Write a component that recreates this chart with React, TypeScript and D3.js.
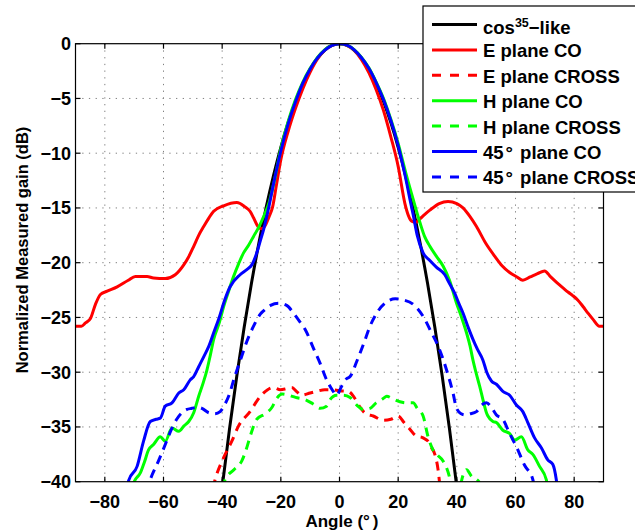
import React from "react";
import * as d3 from "d3";

type Pt = [number, number];

const xTicks = [-80, -60, -40, -20, 0, 20, 40, 60, 80];
const yTicks = [0, -5, -10, -15, -20, -25, -30, -35, -40];

const cosLike: Pt[] = [
  [-40, -40.51], [-37.5, -35.19], [-35, -30.32], [-32.5, -25.89], [-30, -21.86], [-27.5, -18.23],
  [-25, -14.95], [-22.5, -12.04], [-20, -9.46], [-17.5, -7.2], [-15, -5.27], [-12.5, -3.65],
  [-10, -2.33], [-7.5, -1.31], [-5, -0.58], [-2.5, -0.14], [0, 0], [2.5, -0.14], [5, -0.58],
  [7.5, -1.31], [10, -2.33], [12.5, -3.65], [15, -5.27], [17.5, -7.2], [20, -9.46], [22.5, -12.04],
  [25, -14.95], [27.5, -18.23], [30, -21.86], [32.5, -25.89], [35, -30.32], [37.5, -35.19], [40, -40.51],
];

const ePlaneCo: Pt[] = [
  [-90, -25.8], [-88, -25.8], [-86.6, -25.5], [-84.9, -25.1], [-83.2, -23.8], [-81.5, -22.9],
  [-79.2, -22.6], [-75.8, -22.2], [-72, -21.6], [-69.6, -21.25], [-65.6, -21.25], [-63.4, -21.4],
  [-59.4, -21.45], [-56, -21.1], [-53.1, -20.2], [-51.5, -19.5], [-49.7, -18.5], [-48, -17.5],
  [-46.3, -16.7], [-44.5, -15.9], [-42.9, -15.3], [-39.5, -14.8], [-35, -14.5], [-32.2, -14.9],
  [-30.5, -15.3], [-29.3, -15.9], [-27.8, -16.7], [-26.5, -16.9], [-25.3, -16.6], [-24, -15.8],
  [-22.8, -14.9], [-21.5, -12.9], [-20, -10.6], [-17.5, -8.0], [-15, -5.9], [-12.5, -4.1],
  [-10, -2.6], [-7.5, -1.4], [-5, -0.6], [-2.5, -0.15], [0, 0], [2.5, -0.15], [5, -0.62],
  [7.5, -1.45], [10, -2.65], [12.5, -4.2], [15, -6.1], [17.5, -8.5], [20, -11.2], [22.3, -14.6],
  [23.5, -15.7], [24.6, -16.2], [26, -16.3], [27.4, -16.0], [29, -15.6], [30.8, -15.2], [34, -14.6],
  [37, -14.4], [40, -14.6], [42.1, -15.0], [44.5, -15.8], [46.7, -16.7], [49.8, -18.2], [52.9, -19.4],
  [55.5, -20.3], [58, -20.9], [60.5, -21.3], [62.5, -21.6], [65, -21.3], [67.5, -21.0], [69.9, -20.75],
  [72, -21.3], [74, -21.8], [76.2, -22.3], [78, -22.7], [79.5, -23.0], [81.2, -23.4], [83, -24.0],
  [84.7, -24.6], [86.5, -25.2], [88.6, -25.8], [90, -25.8],
];

const ePlaneCross: Pt[] = [
  [-43.2, -40.6], [-42.4, -39.8], [-39.5, -37.8], [-36.7, -36.3], [-34.4, -34.9], [-30.5, -33.6],
  [-27, -32.2], [-24.5, -31.6], [-22.5, -31.4], [-20.2, -31.6], [-18, -31.5], [-16.3, -31.4],
  [-14.5, -31.8], [-12.9, -32.1], [-10, -31.9], [-7.8, -31.75], [-5, -31.6], [-2.7, -31.6],
  [0, -31.7], [3, -31.75], [5, -32.3], [7, -33.2], [9, -33.8], [11.5, -34.0], [14.9, -34.4],
  [17.5, -34.3], [20, -34.0], [22, -34.6], [24, -35.2], [26, -35.8], [28.5, -36.0], [30.5, -36.4],
  [31.4, -36.9], [32.5, -37.5], [33.6, -38.9], [34.3, -40.6],
];

const hPlaneCo: Pt[] = [
  [-71, -40.6], [-69.6, -39.8], [-67.9, -39.2], [-66.5, -38.2], [-65.1, -37.1], [-63.4, -36.6],
  [-61.1, -35.9], [-59.4, -36.3], [-57.1, -35.1], [-54.8, -35.4], [-53, -34.9], [-51.4, -34.5],
  [-49.7, -33.7], [-48, -32.2], [-46.5, -31.0], [-45.2, -29.8], [-44, -28.4], [-42.9, -27.0],
  [-41, -25.5], [-39.5, -24.0], [-37.8, -22.6], [-36.1, -21.25], [-34.4, -20.1], [-32.7, -19.1],
  [-31, -18.4], [-29.3, -17.6], [-27.6, -16.8], [-25.9, -15.8], [-24, -14.5], [-22.5, -12.9],
  [-20, -9.6], [-17.5, -7.1], [-15, -5.1], [-12.5, -3.5], [-10, -2.25], [-7.5, -1.25], [-5, -0.55],
  [-2.5, -0.14], [0, 0], [2.5, -0.14], [5, -0.55], [7.5, -1.25], [10, -2.2], [12.5, -3.5],
  [15, -5.0], [17.5, -6.9], [20, -9.1], [22.5, -11.7], [25.1, -14.2], [27.5, -16.4], [29, -17.6],
  [30.8, -18.5], [33, -19.4], [35.3, -20.3], [37.5, -21.6], [39.9, -23.7], [41.5, -24.9],
  [43.3, -26.4], [44.5, -27.6], [45.5, -28.9], [46.5, -30.0], [47.8, -31.3], [48.9, -32.5],
  [50.1, -33.7], [50.6, -34.0], [52.3, -34.5], [53.5, -34.6], [55.7, -35.3], [58, -35.6],
  [59.7, -36.2], [62, -35.9], [64.2, -37.1], [65.9, -37.5], [68.2, -38.6], [70.5, -39.8], [71, -40.6],
];

const hPlaneCross: Pt[] = [
  [-39.5, -40.6], [-39, -39.8], [-36, -38.9], [-33.3, -38.1], [-31.5, -36.8], [-30.5, -35.9],
  [-28.2, -34.3], [-25.3, -33.8], [-23, -33.2], [-21.4, -32.4], [-19.5, -32.0], [-17.4, -32.1],
  [-15, -32.3], [-11.7, -32.5], [-9, -32.9], [-6.6, -33.3], [-4.4, -33.1], [-3.2, -32.5],
  [-1, -32.1], [1.3, -32.1], [3.6, -32.3], [5.9, -33.0], [8.1, -33.4], [10.4, -33.3], [12.5, -32.8],
  [14.9, -32.4], [16.1, -32.2], [18, -32.4], [20.6, -32.7], [23, -32.8], [25.1, -32.8], [26.5, -33.3],
  [28.5, -34.0], [30.2, -35.9], [31.9, -37.1], [33.5, -37.6], [35.3, -38.1], [37.6, -39.7],
  [38.3, -40.6], [39.6, -41.5], [41, -40.6], [42, -39.5], [43.3, -38.9], [45, -39.5], [47.5, -40.0],
  [48.2, -40.6],
];

const d45Co: Pt[] = [
  [-72.2, -40.6], [-71.9, -39.9], [-69, -38.6], [-66.8, -36.3], [-64.5, -34.5], [-62.5, -34.3],
  [-61.1, -34.2], [-59.4, -33.1], [-57.1, -32.8], [-54.8, -31.9], [-53.1, -31.6], [-50.9, -30.7],
  [-49.7, -30.4], [-48, -29.5], [-46.3, -28.6], [-44.5, -27.6], [-42.9, -26.4], [-41, -25.0],
  [-39.5, -23.7], [-37.3, -22.2], [-33.9, -21.1], [-31.5, -20.6], [-29.9, -20.2], [-28.2, -19.1],
  [-27, -18.0], [-25.9, -17.0], [-24, -14.8], [-22.5, -12.8], [-20, -9.8], [-17.5, -7.3],
  [-15, -5.3], [-12.5, -3.6], [-10, -2.3], [-7.5, -1.3], [-5, -0.58], [-2.5, -0.15], [0, 0],
  [2.5, -0.14], [5, -0.56], [7.5, -1.28], [10, -2.25], [12.5, -3.55], [15, -5.1], [17.5, -7.0],
  [20, -9.3], [22.5, -12.2], [24, -14.2], [25.1, -15.6], [26.5, -17.5], [28.5, -19.1], [30.8, -19.8],
  [33, -20.4], [35.9, -21.1], [37.5, -21.9], [39.3, -22.8], [40.5, -23.6], [42.1, -24.6], [44, -26.0],
  [45.5, -27.0], [47, -27.9], [48.9, -28.9], [50.2, -30.0], [51.8, -30.8], [53.5, -31.1],
  [55.7, -31.75], [58, -32.1], [60.3, -33.0], [62.5, -33.6], [64.2, -34.6], [66.5, -36.0],
  [68.8, -36.9], [71, -38.0], [72.7, -38.4], [73.9, -39.8], [74.3, -40.6],
];

const d45Cross: Pt[] = [
  [-66, -41], [-64.5, -39.8], [-61.7, -38.1], [-59.4, -36.6], [-57.1, -35.1], [-55.5, -34.3],
  [-53.7, -33.7], [-52, -33.4], [-50.3, -33.3], [-48.6, -33.2], [-46.9, -33.3], [-44.6, -33.7],
  [-42.5, -33.8], [-40.7, -33.6], [-39.2, -33.0], [-37.8, -32.2], [-35.6, -30.3], [-33.9, -29.0],
  [-31.6, -27.2], [-29.3, -25.8], [-27, -24.7], [-25.9, -24.4], [-23.5, -23.9], [-20.8, -23.7],
  [-18, -23.9], [-15.7, -24.6], [-13.5, -25.4], [-11.7, -26.1], [-8.9, -27.8], [-6.6, -29.2],
  [-4.4, -30.7], [-2.5, -31.6], [-1, -32.1], [0.7, -31.3], [2.4, -30.6], [3.6, -30.4], [5.9, -29.0],
  [8.1, -27.5], [10.4, -25.8], [12.7, -24.6], [16.6, -23.5], [19, -23.3], [21.7, -23.4], [25.1, -23.8],
  [28.5, -24.9], [31.4, -26.4], [33.6, -27.6], [36.5, -29.8], [38.7, -31.9], [39.9, -33.3],
  [41.5, -33.8], [42.7, -33.9], [44.5, -33.8], [46.7, -33.6], [48.5, -33.0], [50.1, -32.8],
  [52, -33.3], [53.5, -33.9], [55.7, -34.3], [58, -35.6], [60.3, -36.8], [63.1, -38.5],
  [65.9, -39.8], [66.5, -40.6],
];

// legend labels: [text before the degree sign / superscript, special part, rest]
const legendLabels = [
  "cos35-like",
  "E plane CO",
  "E plane CROSS",
  "H plane CO",
  "H plane CROSS",
  "45° plane CO",
  "45° plane CROSS",
];

const seriesList = [
  { data: cosLike, color: "#000000", dashed: false },
  { data: ePlaneCo, color: "#ff0000", dashed: false },
  { data: ePlaneCross, color: "#ff0000", dashed: true },
  { data: hPlaneCo, color: "#00ff00", dashed: false },
  { data: hPlaneCross, color: "#00ff00", dashed: true },
  { data: d45Co, color: "#0000ff", dashed: false },
  { data: d45Cross, color: "#0000ff", dashed: true },
];

const W = 635;
const H = 532;
const L = 75.5;
const R = 603.5;
const T = 43.7;
const B = 481.7;
const FONT = "'Liberation Sans', Arial, Helvetica, sans-serif";

function LegendText({ label, x, y }: { label: string; x: number; y: number }) {
  if (label.startsWith("cos35")) {
    return (
      <text x={x} y={y + 9} fontSize={18.5} fill="#000">
        cos
        <tspan dy={-7} fontSize={12.5}>
          35
        </tspan>
        <tspan dy={7}>{"\u2212like"}</tspan>
      </text>
    );
  }
  if (label.includes("°")) {
    const [pre, post] = label.split("°");
    return (
      <text x={x} y={y + 7.5} fontSize={18.5} fill="#000">
        {pre}
        <tspan dx={2}>°</tspan>
        <tspan dx={2}>{post}</tspan>
      </text>
    );
  }
  return (
    <text x={x} y={y + 7.5} fontSize={18.5} fill="#000">
      {label}
    </text>
  );
}

export default function App() {
  const x = d3.scaleLinear().domain([-90, 90]).range([L, R]);
  const y = d3.scaleLinear().domain([-40, 0]).range([B, T]);
  const line = d3
    .line<Pt>()
    .x((d) => x(d[0]))
    .y((d) => y(d[1]))
    .curve(d3.curveMonotoneX);

  const tickLen = 5;
  const legX = 423;
  const legY = 6;
  const rowY = (i: number) => 24.5 + i * 25.4;

  return (
    <svg
      width={W}
      height={H}
      style={{ position: "absolute", left: 0, top: 0, background: "#fff" }}
      fontFamily={FONT}
      fontWeight="bold"
    >
      <rect x={0} y={0} width={W} height={H} fill="#fff" />
      <defs>
        <clipPath id="plotclip">
          <rect x={L} y={T} width={R - L} height={B - T} />
        </clipPath>
      </defs>

      {/* grid */}
      <g stroke="#808080" strokeWidth={1} strokeDasharray="1.3,5.4">
        {xTicks.map((t) => (
          <line key={"gx" + t} x1={x(t)} x2={x(t)} y1={T} y2={B} />
        ))}
        {yTicks
          .filter((t) => t !== 0 && t !== -40)
          .map((t) => (
            <line key={"gy" + t} x1={L} x2={R} y1={y(t)} y2={y(t)} />
          ))}
      </g>

      {/* series */}
      <g clipPath="url(#plotclip)" fill="none">
        {seriesList.map((s, i) => (
          <path
            key={"s" + i}
            d={line(s.data) || ""}
            stroke={s.color}
            strokeWidth={3}
            strokeDasharray={s.dashed ? "9,6.5" : undefined}
            strokeLinejoin="round"
          />
        ))}
      </g>

      {/* axes box and ticks */}
      <g stroke="#000" strokeWidth={1.2} fill="none">
        <rect x={L} y={T} width={R - L} height={B - T} />
        {xTicks.map((t) => (
          <g key={"tx" + t}>
            <line x1={x(t)} x2={x(t)} y1={B} y2={B - tickLen} />
            <line x1={x(t)} x2={x(t)} y1={T} y2={T + tickLen} />
          </g>
        ))}
        {yTicks.map((t) => (
          <g key={"ty" + t}>
            <line x1={L} x2={L + tickLen} y1={y(t)} y2={y(t)} />
            <line x1={R} x2={R - tickLen} y1={y(t)} y2={y(t)} />
          </g>
        ))}
      </g>

      {/* tick labels */}
      <g fontSize={18} fill="#000">
        {xTicks.map((t) => (
          <text key={"lx" + t} x={x(t)} y={508} textAnchor="middle">
            {t < 0 ? "\u2212" + Math.abs(t) : String(t)}
          </text>
        ))}
        {yTicks.map((t) => (
          <text key={"ly" + t} x={71} y={y(t) + 6.4} textAnchor="end">
            {t < 0 ? "\u2212" + Math.abs(t) : String(t)}
          </text>
        ))}
      </g>

      {/* axis labels */}
      <text x={342} y={527} textAnchor="middle" fontSize={17} fill="#000">
        Angle (°<tspan dx={3}>)</tspan>
      </text>
      <text
        transform="translate(28,250) rotate(-90)"
        textAnchor="middle"
        fontSize={16.5}
        fill="#000"
      >
        Normalized Measured gain (dB)
      </text>

      {/* legend */}
      <rect x={legX} y={legY} width={230} height={186} fill="#fff" stroke="#000" strokeWidth={1.2} />
      {seriesList.map((s, i) => (
        <g key={"leg" + i}>
          <line
            x1={432}
            x2={477}
            y1={rowY(i)}
            y2={rowY(i)}
            stroke={s.color}
            strokeWidth={3}
            strokeDasharray={s.dashed ? "9,9" : undefined}
          />
          <LegendText label={legendLabels[i]} x={483} y={rowY(i)} />
        </g>
      ))}
    </svg>
  );
}
